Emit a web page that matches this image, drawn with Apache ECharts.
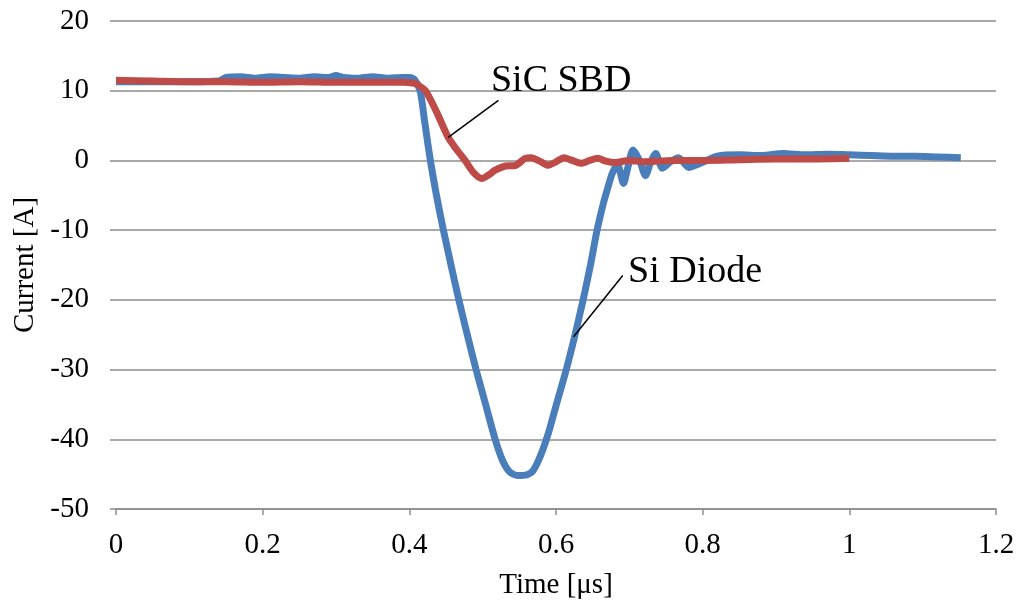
<!DOCTYPE html>
<html>
<head>
<meta charset="utf-8">
<script src="https://cdn.jsdelivr.net/npm/echarts@6/dist/echarts.min.js"></script>
<style>
html,body{margin:0;padding:0;background:#fff;}
#c{width:1022px;height:605px;}
</style>
</head>
<body>
<div id="c"></div>
<script>
// Time axis ticks [µs]
var xTicks = [0, 0.2, 0.4, 0.6, 0.8, 1, 1.2];
var yTicks = [-50, -40, -30, -20, -10, 0, 10, 20];

// Si Diode
var siTime = [0, 0.05, 0.10, 0.14, 0.15, 0.17, 0.19, 0.21, 0.23, 0.25, 0.27, 0.29, 0.30, 0.31, 0.33, 0.35, 0.37, 0.39, 0.400, 0.407, 0.4147, 0.421, 0.4287, 0.437, 0.4465, 0.4568, 0.4675, 0.479, 0.491, 0.504, 0.517, 0.527, 0.537, 0.548, 0.560, 0.568, 0.575, 0.582, 0.590, 0.600, 0.614, 0.626, 0.637, 0.647, 0.656, 0.665, 0.671, 0.677, 0.684, 0.692, 0.698, 0.705, 0.714, 0.722, 0.729, 0.736, 0.745, 0.756, 0.767, 0.781, 0.797, 0.82, 0.85, 0.88, 0.91, 0.94, 0.97, 1.0, 1.03, 1.06, 1.09, 1.12, 1.152];
var siCurrent = [11.3, 11.3, 11.3, 11.4, 11.9, 12.0, 11.8, 12.0, 11.9, 11.8, 12.0, 11.9, 12.2, 11.9, 11.8, 12.0, 11.8, 11.9, 11.9, 11.6, 10, 5.5, 0, -5, -10, -15, -20, -25, -30, -35, -40, -43, -44.7, -45.2, -45.1, -44.6, -43.3, -41.5, -39.0, -35.2, -30, -25, -20, -15, -10, -6, -3.8, -1.8, -0.6, -3.3, -1.0, 1.5, 0, -2.2, -0.3, 1.0, -1.1, -0.2, 0.4, -1.0, -0.4, 0.6, 0.8, 0.7, 1.0, 0.8, 0.9, 0.8, 0.7, 0.6, 0.6, 0.5, 0.4];

// SiC SBD
var sicTime = [0, 0.05, 0.1, 0.15, 0.2, 0.25, 0.3, 0.35, 0.39, 0.405, 0.412, 0.422, 0.437, 0.453, 0.465, 0.476, 0.488, 0.499, 0.508, 0.517, 0.531, 0.545, 0.558, 0.566, 0.578, 0.589, 0.6, 0.611, 0.622, 0.634, 0.646, 0.657, 0.668, 0.68, 0.7, 0.72, 0.74, 0.76, 0.8, 0.85, 0.9, 0.95, 1.0];
var sicCurrent = [11.5, 11.4, 11.3, 11.3, 11.2, 11.3, 11.2, 11.2, 11.2, 11.1, 10.8, 10.0, 7.0, 3.3, 1.5, 0.0, -1.8, -2.6, -2.1, -1.4, -0.8, -0.7, 0.3, 0.4, -0.1, -0.7, -0.2, 0.4, 0.0, -0.4, 0.0, 0.3, -0.1, -0.3, 0.0, -0.2, -0.1, 0.0, 0.0, 0.1, 0.2, 0.2, 0.3];

// annotation labels and leader lines (data coords)
var sicLabel = {text: 'SiC SBD', at: [0.5106, 11.33], leader: [[0.5215, 8.6], [0.453, 3.3]]};
var siLabel = {text: 'Si Diode', at: [0.6976, -16.07], leader: [[0.691, -16.5], [0.624, -25.3]]};

function zip(a, b) { return a.map(function (v, i) { return [v, b[i]]; }); }

var FONT = '"Liberation Serif", "Times New Roman", serif';
var GRID = '#8c8c8c';

function anno(lbl) {
  return {
    markLine: {
      silent: true, symbol: ['none', 'none'], animation: false,
      label: {show: false},
      lineStyle: {color: '#000', width: 1.5, type: 'solid'},
      data: [[{coord: lbl.leader[0]}, {coord: lbl.leader[1]}]]
    },
    markPoint: {
      silent: true, animation: false,
      data: [{
        coord: lbl.at, symbol: 'rect', symbolSize: 1,
        itemStyle: {color: 'rgba(0,0,0,0)'},
        label: {show: true, position: 'right', distance: 0, formatter: lbl.text,
          fontSize: 38, color: '#000', fontFamily: FONT}
      }]
    }
  };
}

var chart = echarts.init(document.getElementById('c'), null, {renderer: 'canvas'});
var siSeries = Object.assign({
  name: 'Si Diode', type: 'line', data: zip(siTime, siCurrent), showSymbol: false,
  smooth: 0.25, lineStyle: {color: '#4a7ebb', width: 7}, itemStyle: {color: '#4a7ebb'},
  z: 2, animation: false
}, anno(siLabel));
var sicSeries = Object.assign({
  name: 'SiC SBD', type: 'line', data: zip(sicTime, sicCurrent), showSymbol: false,
  smooth: 0.25, lineStyle: {color: '#be4b48', width: 7}, itemStyle: {color: '#be4b48'},
  z: 3, animation: false
}, anno(sicLabel));

chart.setOption({
  backgroundColor: '#fff',
  animation: false,
  grid: {left: 116, right: 26, top: 21, bottom: 96, containLabel: false},
  xAxis: [{
    type: 'value', min: xTicks[0], max: xTicks[xTicks.length - 1], interval: 0.2,
    position: 'bottom',
    axisLine: {show: false}, axisTick: {show: false}, splitLine: {show: false},
    axisLabel: {fontSize: 29, color: '#000', fontFamily: FONT, margin: 22},
    name: 'Time [μs]', nameLocation: 'middle', nameGap: 62,
    nameTextStyle: {fontSize: 29, color: '#000', fontFamily: FONT}
  }, {
    type: 'value', min: xTicks[0], max: xTicks[xTicks.length - 1], interval: 0.2,
    position: 'bottom',
    axisLine: {show: true, onZero: true, lineStyle: {color: GRID, width: 1.5}},
    axisTick: {show: true, length: 6, lineStyle: {color: GRID, width: 1.5}},
    axisLabel: {show: false}, splitLine: {show: false}
  }],
  yAxis: {
    type: 'value', min: yTicks[0], max: yTicks[yTicks.length - 1], interval: 10,
    axisLine: {show: false},
    axisTick: {show: true, length: 6, lineStyle: {color: GRID, width: 1.5}},
    splitLine: {show: true, lineStyle: {color: GRID, width: 1.5}},
    axisLabel: {fontSize: 29, color: '#000', fontFamily: FONT, margin: 27},
    name: 'Current [A]', nameLocation: 'middle', nameGap: 76,
    nameTextStyle: {fontSize: 29, color: '#000', fontFamily: FONT}
  },
  series: [siSeries, sicSeries]
});
</script>
</body>
</html>
